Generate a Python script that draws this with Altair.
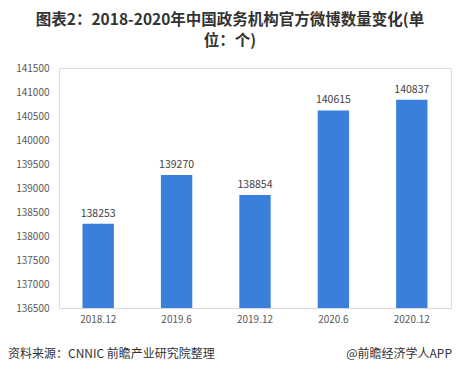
import altair as alt
import pandas as pd

categories = ["2018.12", "2019.6", "2019.12", "2020.6", "2020.12"]
values = [138253, 139270, 138854, 140615, 140837]
y_ticks = [136500, 137000, 137500, 138000, 138500, 139000, 139500, 140000, 140500, 141000, 141500]

df = pd.DataFrame({"period": categories, "count": values})

FONT = "Noto Sans CJK SC"

x = alt.X("period:N", sort=categories, title=None,
          scale=alt.Scale(paddingInner=0.6, paddingOuter=0.3),
          axis=alt.Axis(labelAngle=0, labelFontSize=10, labelColor="#595959", labelFont=FONT,
                        domain=True, domainColor="#d9d9d9", ticks=False, grid=False, labelPadding=6))
y = alt.Y("count:Q", title=None,
          scale=alt.Scale(domain=[136500, 141500], zero=False, nice=False),
          axis=alt.Axis(values=y_ticks, grid=False, domain=False, ticks=False, format="d",
                        labelOverlap=False,
                        labelFontSize=10, labelColor="#595959", labelFont=FONT, labelPadding=10))

base = alt.Chart(df)
bars = base.mark_bar(color="#3a7fdc").encode(x=x, y=y, y2=alt.datum(136500))
labels = base.mark_text(dy=-10, fontSize=10.5, color="#404040", font=FONT).encode(
    x=x, y=y, text="count:Q")

footer = pd.DataFrame({"left": ["资料来源：CNNIC 前瞻产业研究院整理"], "right": ["@前瞻经济学人APP"]})
footer_l = alt.Chart(footer).mark_text(
    align="left", baseline="middle", fontSize=12, color="#333333", font=FONT
).encode(x=alt.value(-51), y=alt.value(286), text="left:N")
footer_r = alt.Chart(footer).mark_text(
    align="right", baseline="middle", fontSize=12, color="#333333", font=FONT
).encode(x=alt.value(393), y=alt.value(286), text="right:N")

chart = alt.layer(bars, labels, footer_l, footer_r).properties(
    width=392, height=240,
    autosize=alt.AutoSizeParams(type="none"),
    padding={"left": 59, "top": 68, "right": 8, "bottom": 68},
    title=alt.TitleParams(
        text=["图表2：2018-2020年中国政务机构官方微博数量变化(单", "位：个)"],
        fontSize=15.5, fontWeight="bold", color="#333333", font=FONT,
        anchor="middle", dx=-25, offset=14, lineHeight=21,
    ),
).configure_view(strokeOpacity=0, strokeWidth=0).configure_axis(grid=False
).configure_axisY(domain=False, ticks=False, grid=False
).configure(background="white")

chart.save("out.html", embed_options={"renderer": "svg", "actions": False})
